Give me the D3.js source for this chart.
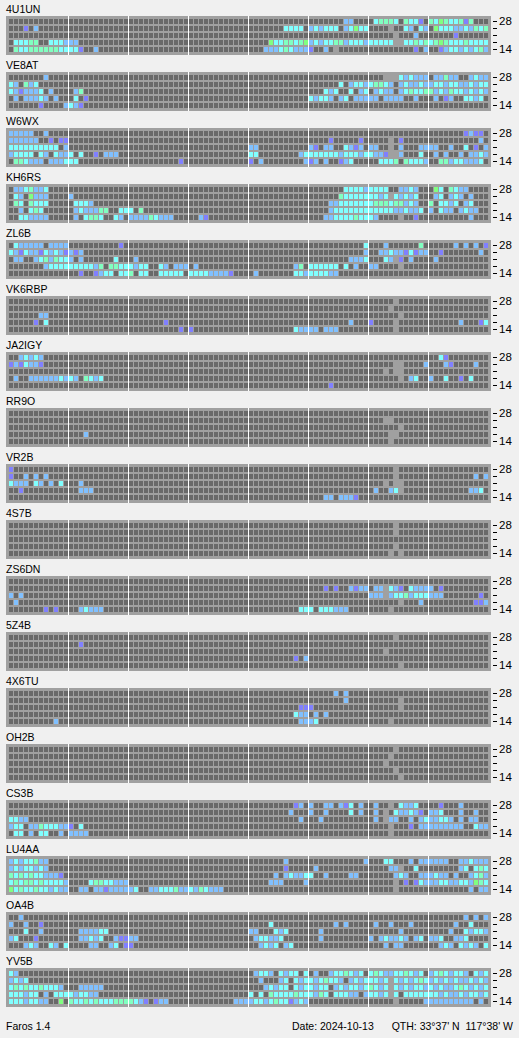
<!DOCTYPE html>
<html><head><meta charset="utf-8">
<script src="https://cdn.jsdelivr.net/npm/d3@7"></script>
<style>html,body{margin:0;padding:0;background:#f0f0f0;}svg{display:block;}</style>
</head><body>
<svg id="chart" width="519" height="1038"></svg>
<script>
// ---- data ----
const beacons = ["4U1UN","VE8AT","W6WX","KH6RS","ZL6B","VK6RBP","JA2IGY","RR9O","VR2B","4S7B","ZS6DN","5Z4B","4X6TU","OH2B","CS3B","LU4AA","OA4B","YV5B"];
const bands = ["28","24","21","18","14"];
const bandTickLabels = ["28","","","","14"];
const slotCount = 96;          // 15-minute slots per day
const slotsPerDivider = 12;    // divider every 3 hours
const levelCodes = [".","-","p","b","c","m","g"];
const footerLeft = "Faros 1.4";
const footerDate = "Date: 2024-10-13";
const footerQth = "QTH: 33°37' N  117°38' W";

// rows: 28, 24, 21, 18, 14 ; one char per 15-min slot
// . none  - no data  p/b/c/m/g signal levels
const s_4U1UN = [
"............ ............ ............ ............ ............ .......bb... .cmmmc.mccp. mcgmccmpm...",
"...p.b...... ............ ............ ............ .......cccc. bcbccc.bcgcc ....-..cb.cb .gcccbbcbmcm",
"............ ............ ............ ............ ............ ............ .....-...b.. .....p......",
".cccmm..cccb bb.......... ............ ............ ....gccmmcmg bcbccmmbcccb ccccc--ccmcm cmgmcccmcccc",
".mccmmmmmmcc ccp..b...... ............ ............ ...bbbcmcbbb p..b.-...... .........p.b ..pbccbcbcmb"];
const s_VE8AT = [
".......b.... ............ ............ ............ ............ ............ ...---cbcbbb .bbmbb..bcbb",
"cb.mbc...... ............ ............ ............ ............ ......c.bccb cmmcb.bcbbcb bccbccbbcbcc",
"cbpbbbc.b... .bm......... ............ ............ ............ ...cbc..c.bc .bcbb.bcmccm mbcbmccbcbcb",
".b.bbbcb.b.. .c.p........ ............ ............ ............ cbccb.bc.bbb bb.bbbb..b.. .b.pb..ccbc.",
"......p....b cbp......... ............ ............ ............ ............ ............ ............"];
const s_W6WX = [
"bbbbb..b.... ............ ............ ............ ............ ............ ............ .......pbpp.",
"bbbbbb..p.pp ............ ............ ............ ............ ....p.....p. ....-.p..... ..........b.",
"cccccccccc.b ............ ............ ............ bb.......... bp.bb..cbpb. bb..-.b...bb bb..b..c.p.b",
"bcccc.cb.cbb c.c..p.bbb.. ............ ............ cc........bc ccccccbcccbc cbbp--b...c. .b.b..b.bbcb",
".mmcbbb.bbbc cc.......... ..........p. ............ p.b........b pb.b..pbc... ..cccm.mcccb ..mmbccbbbc."];
const s_KH6RS = [
".bbcmbbc.... ............ ............ ............ ............ .......ccccb cccc..bbcb.. .gc.mcbb....",
".cb.gbbb.... b........... ............ ............ ............ ......mccccc ccbc-cbcbc.. .bc.bcb.b...",
".mc.mccc.... .cccb....... ............ ............ ............ ....bbcccccc cmmmcmmbcb.. m.ccbc.bc...",
"..b.cmc..... .bcbbbmm..cc c.m......... ............ ............ ....bccccccc cccccbbcbbc. b.cbb.bcbb..",
"..ccbbbb.... .b.cmmc..cb. bbbbmcbbb... ..bp........ ............ ...bbccccmcc cb....-..p.. ........b..."];
const s_ZL6B = [
".cbbbbb.bbbb ..........p. ............ ............ ............ ...........c ...b......m. .....b.b.b.p",
"cbpcbbpcbcbp bpb......... ............ ............ ............ ...........b ..bbcbbpcpbb ..p.......b.",
".bb..bcmbmcc b.b......c.. .b.......... ............ ............ ........bbbc ...cb-p.b... .b..........",
".......bcccc cccccbm.mmcc cbcc..cb.bbb .b.......... .........bm. cccccc.c.b.. bb....-..... ............",
"............ ..p..pbcc.cc m.cc..ccccc. ccccbbbbp... .b.......ccb ccccbb...... ............ ............"];
const s_VK6RBP = [
"............ ............ ............ ............ ............ ............ .....-...... ............",
"............ ............ ............ ............ ............ ............ ....-....... ............",
"......bb.... ............ ............ ............ ............ ............ ......-..... ............",
".....p.c.... ............ .......p.... ............ ............ ........b... p....-...... ......b...pc",
"............ ............ ..........p. p........... .........cbb bb.bbb...... .....-...... ............"];
const s_JA2IGY = [
"..bcbcb..... ............ ............ ............ ............ ............ ............ ..cp........",
"pbpcbbp..... ............ ............ ............ ............ ............ .....--....b ...bp....b..",
"............ ............ ............ ............ ............ ............ ...-.--..... ............",
".b..bbbbbbcb cb.mcbc..... ............ ............ ............ ............ ......-.bc.. b..c..p.c...",
"............ ............ ............ ............ ............ ....p....... ............ ............"];
const s_RR9O = [
"............ ............ ............ ............ ............ ............ ............ ............",
"............ ............ ............ ............ ............ ............ ...--....... ............",
"............ ............ ............ ............ ............ ............ ......-..... ............",
"............ ...b........ ............ ............ ............ ............ ....--...... ............",
"............ ............ ............ ............ ............ ............ ....-....... ............"];
const s_VR2B = [
"p........... ............ ............ ............ ............ ............ .....-...... ............",
"p..b.b.b.... ............ ............ ............ ............ ............ .....-...... .........b.b",
"cbbb.cb.b.c. ..b......... ............ ............ ............ ............ ...-.--..... ............",
"..p......... ..bbb....... ............ ............ ............ ............ .b..bc-..... ........bbc.",
"............ ............ ............ ............ ............ ...bb.bbbp.. ............ ............"];
const s_4S7B = [
"............ ............ ............ ............ ............ ............ .....-...... ............",
"............ ............ ............ ............ ............ ............ .....-...... ............",
"............ ............ ............ ............ ............ ............ ............ ............",
"............ ............ ............ ............ ............ ............ .....-...... ............",
"............ ............ ............ ............ ............ ............ ....-.-..... ............"];
const s_ZS6DN = [
"............ ............ ............ ............ ............ ............ ............ ............",
"............ ............ ............ ............ ............ ...p.p..bpbb .bb-cbp.cbbb b.p.........",
"b.b......... ............ ............ ............ ............ ............ bbb-bccmbccc bbb.......p.",
".b.......... ............ ............ ............ ............ ............ ......-...b. .........ppb",
".......p.p.. ..bcbbb..... ............ ............ ..........cc c.cccbbb.... ....-....... ............"];
const s_5Z4B = [
"............ ............ ............ ............ ............ ............ .....-...... ............",
"............ ..p......... ............ ............ ............ ............ ............ ............",
"............ ............ ............ ............ ............ ............ ...-........ ............",
"............ ............ ............ ............ .........p.b ............ ............ ............",
"............ ............ ............ ............ ............ ............ ......-..... ............"];
const s_4X6TU = [
"............ ............ ............ ............ ............ .....b.b.... ............ ............",
"............ ............ ............ ............ ............ .......b.... ......-..... ............",
"............ ............ ............ ............ ..........pp p........... ......-..... ............",
"............ ............ ............ ............ .........cbb .b.b........ ............ ............",
".........b.. ............ ............ ............ ..........bb bc.......... ....-....... ............"];
const s_OH2B = [
"............ ............ ............ ............ ............ ............ .....-...... ............",
"............ ............ ............ ............ ............ ............ ....-....... ............",
"............ ............ ............ ............ ............ ............ ...-........ ............",
"............ ............ ............ ............ ............ ............ .....-...... ............",
"............ ............ ............ ............ ............ ............ ......-..... ............"];
const s_CS3B = [
"............ ............ ............ ............ .........pb. b..bb.bpc.b. .b..-.cbbc.. ..p...b.....",
"............ ............ ............ ............ ........b... b..b....c.b. .b.-.cbbcbp. bbc...b..b..",
"ccbb........ ............ ............ ............ ..........b. ..b......... .b.-bb..b.bc bbccb.b.bb..",
"bcc.bbmcccbb p.c......... ............ ............ ............ ............ ....-...p.bb bbbbbbb..cbb",
".cc.b.cc..b. bbbb........ ............ ............ ............ ............ ....-....... ............"];
const s_LU4AA = [
"bcbccmbb.... ............ ............ ............ .......b.... ...........b ...cc...b.bb bbbb..bbcbbb",
"bcbccbcb.... ............ ............ ............ .......p.... .b.......... ....bb-..c.. ......bc.cmc",
"mcmcmccbbbp. ............ ............ ............ .....b.bcbbc c..b....bb.. .....bcb..bb bcbb.b..bcmb",
"cmcmmcmccccb ....cmmccbbb ............ ............ ....bbb....b ............ .....-.p.pcb bbccbbccbgmc",
"gcmccmccbcbb ..bb.bbpbbbb bc..bbcccmbb cbmcbbb..... ............ ............ .....-...... ........b.bb"];
const s_OA4B = [
"..b......... ............ ............ ............ ............ ............ ............ .......b.b.b",
"b..b..p..... ............ ............ ............ ....c....... .....b.b.... .b..b...b... .....b..c...",
"...c..b..... ..bbbbcc.... ............ ............ bb...cbc.... ..b......... ......b..... ....b..cbccb",
"bc...p...... ..bbcbc..bpp bb.......... ............ .bccbbc..... ..b......... b.bcbbcb.bc. bbc..bbc....",
"...bcb..cb.c ....bb..bc.p p........... ............ ..bcbc.bc... ............ ...b.bb..... ..bcb.cbcb.c"];
const s_YV5B = [
"cb.......... ............ ............ ............ .bccb.cbcc.c .b..bccmcbc. cmcbbccmcbc. bcmcbccb.cbc",
"bcbc........ ............ ............ ............ ..b...bc.cbc cbcmccb.bcbc ccbc-cbcbcmc bcbcbcbbcbcb",
"cmcmccmcccb. ..bbbbb..... ............ ............ ...bcbcc.cbc cbcc.bcbccbc mcbc-cbcbccb cbcbbcmcbcbc",
"cccbcc.b.ccc cbccbb...... ............ ............ c.c.mccccmcc cbmc.cccbb.b ccbc-c.ccccc ccbcbbcbccbc",
"cccbccbb..g. mccmcmcccmmm mcbp.pbb.... .........bbb bccbcmccpbcb ............ .....-.....b bbbbbbbbb.b."];
const beaconRows = [s_4U1UN,s_VE8AT,s_W6WX,s_KH6RS,s_ZL6B,s_VK6RBP,s_JA2IGY,s_RR9O,s_VR2B,s_4S7B,s_ZS6DN,s_5Z4B,s_4X6TU,s_OH2B,s_CS3B,s_LU4AA,s_OA4B,s_YV5B];

// ---- drawing ----
const svg = d3.select("#chart");
const FONT = "'Liberation Sans', Arial, sans-serif";
svg.append("rect").attr("width",519).attr("height",1038).attr("fill","#f0f0f0");

const color = d3.scaleOrdinal().domain(levelCodes)
  .range(["#696969","#a0a0a0","#8080ff","#80c0ff","#80ffff","#80ffc0","#80ff80"]);
const x = d3.scaleLinear().domain([0, slotCount]).range([9, 489]);
const y = d3.scaleBand().domain(bands).range([3, 36]).paddingInner(2/7).paddingOuter(0);
const panelTop = d3.scaleLinear().domain([0, 1]).range([16, 72]);
const frameH = 39;

beacons.forEach((name, k) => {
  const g = svg.append("g").attr("transform", `translate(0,${panelTop(k)})`);
  g.append("text").attr("x", 6).attr("y", -3)
    .attr("font-family", FONT).attr("font-size", "10.5px").attr("fill", "#000").text(name);
  g.append("rect").attr("x", 6).attr("y", 0).attr("width", x(slotCount) + 2 - 6 ).attr("height", frameH).attr("fill", "#a0a0a0");
  const cells = [];
  beaconRows[k].forEach((row, r) => {
    const s = row.replace(/\s/g, "").padEnd(slotCount, ".").slice(0, slotCount);
    for (let i = 0; i < slotCount; i++) cells.push({band: bands[r], slot: i, code: s[i]});
  });
  g.selectAll("rect.cell").data(cells).join("rect").attr("class", "cell")
    .attr("x", d => x(d.slot)).attr("y", d => y(d.band))
    .attr("width", d => x(d.slot + 1) - x(d.slot) - 1).attr("height", y.bandwidth())
    .attr("fill", d => color(d.code));
  g.selectAll("rect.div").data(d3.range(slotsPerDivider, slotCount, slotsPerDivider)).join("rect")
    .attr("class", "div").attr("x", d => x(d) - 1).attr("y", 0).attr("width", 1).attr("height", frameH)
    .attr("fill", "#ffffff");
  const axis = d3.axisRight(y).tickSize(4).tickPadding(2).offset(0)
    .tickFormat((d, i) => bandTickLabels[i]);
  const ag = g.append("g").attr("transform", "translate(493,0)").call(axis);
  ag.select(".domain").remove();
  ag.selectAll("line").attr("stroke", "#000");
  ag.selectAll("text").attr("font-family", FONT).attr("font-size", "11.5px").attr("fill", "#000");
});

svg.append("text").attr("x", 6).attr("y", 1030).attr("font-family", FONT).attr("font-size", "10.5px").text(footerLeft);
svg.append("text").attr("x", 292).attr("y", 1030).attr("font-family", FONT).attr("font-size", "10.5px").text(footerDate);
svg.append("text").attr("x", 513).attr("y", 1030).attr("text-anchor", "end").style("white-space", "pre")
  .attr("font-family", FONT).attr("font-size", "10.5px").text(footerQth);
</script>
</body></html>
